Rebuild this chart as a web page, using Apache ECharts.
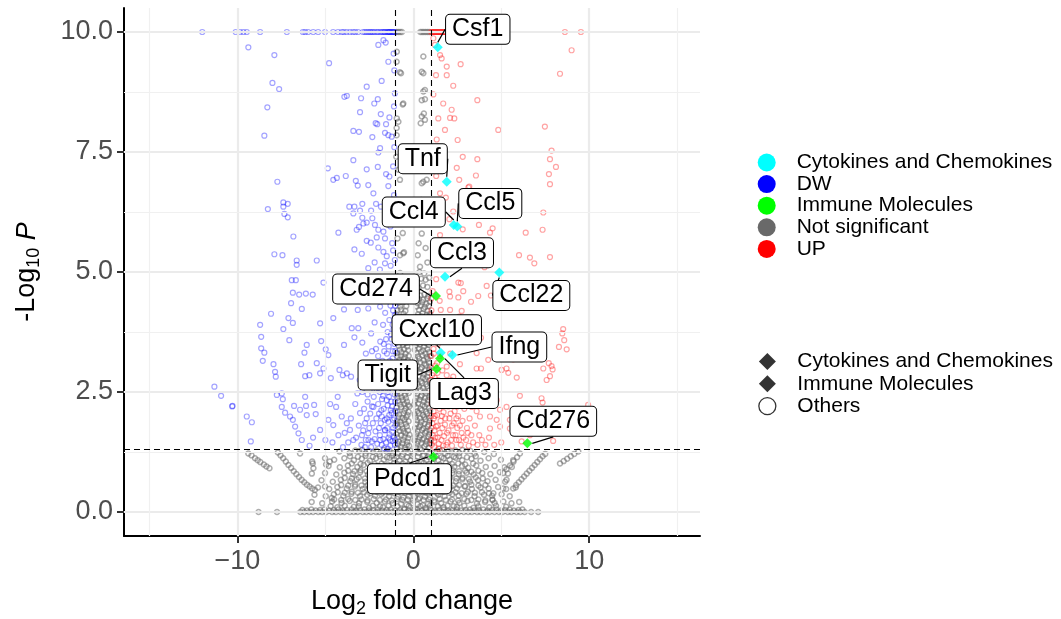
<!DOCTYPE html>
<html>
<head>
<meta charset="utf-8">
<script src="https://cdn.jsdelivr.net/npm/echarts@6/dist/echarts.min.js"></script>
<style>
  html, body { margin: 0; padding: 0; background: #fff; }
  #chart { width: 1061px; height: 619px; }
</style>
</head>
<body>
<div id="chart"></div>
<script>
// ---- data (log2 fold change, -log10 P) ----
const xTicks = [-10, 0, 10];
const yTicks = [0, 2.5, 5, 7.5, 10];
const xMinor = [-15, -5, 5, 15];
const yMinor = [1.25, 3.75, 6.25, 8.75];
const fcCutoff = 1;
const pCutoff = 1.301;

const cytoGenes = ['Csf1', 'Tnf', 'Ccl4', 'Ccl5', 'Ccl3', 'Ccl22', 'Cxcl10', 'Ifng'];
const cytoLFC = [1.39, 1.9, 2.3, 2.5, 1.8, 4.89, 1.56, 2.22];
const cytoLogP = [9.68, 6.88, 5.98, 5.95, 4.9, 4.99, 3.32, 3.27];

const immuneGenes = ['Cd274', 'Lag3', 'Tigit', 'Cd276', 'Pdcd1'];
const immuneLFC = [1.29, 1.52, 1.33, 6.48, 1.14];
const immuneLogP = [4.5, 3.2, 2.98, 1.43, 1.15];

// down-regulated (blue)
const dwPoints = [
  [-12.0,10],[-10.1,10],[-9.85,10],[-9.66,10],[-9.47,10],[-8.71,10],[-7.19,10],[-6.28,10],[-6.15,10],[-5.98,10],
  [-5.69,10],[-5.41,10],[-5.02,10],[-4.56,10],[-4.28,10],[-4.07,10],[-3.79,10],[-3.6,10],[-3.43,10],[-3.14,10],
  [-2.86,10],[-2.65,10],[-2.46,10],[-2.29,10],[-2.08,10],[-1.89,10],[-1.72,10],[-1.51,10],[-1.32,10],[-1.15,10],
  [-1.05,10],[-1.1,10],[-1.2,10],[-1.25,10],[-1.4,10],[-1.45,10],[-1.6,10],[-1.8,10],[-2.0,10],[-2.2,10],
  [-2.38,10],[-2.55,10],[-2.75,10],[-1.65,10],[-1.35,10],[-3.3,10],[-3.95,10],
  [-9.38,9.68],[-7.9,9.52],[-4.79,9.35],[-1.99,9.73],[-1.57,9.78],[-1.42,9.38],[-1.7,9.83],[-1.12,9.55],[-1.08,9.2],
  [-8.01,8.94],[-7.63,8.81],[-2.65,8.86],[-1.8,8.98],[-3.92,8.65],[-3.78,8.67],[-2.97,8.62],[-2.02,8.6],[-2.22,8.51],
  [-8.3,8.43],[-3.03,8.33],[-1.85,8.29],[-1.36,8.22],[-2.14,8.1],[-2.05,8.08],[-1.55,8.08],[-1.1,8.45],[-1.05,8.72],
  [-8.47,7.84],[-3.41,7.94],[-3.09,7.92],[-2.33,7.81],[-1.61,7.9],[-1.42,7.85],[-1.23,7.82],[-1.08,7.6],[-1.89,7.58],
  [-1.99,7.49],[-3.41,7.33],[-2.02,7.19],[-2.65,7.14],[-4.86,7.16],[-1.55,7.04],[-1.36,6.99],[-1.15,7.2],[-7.73,6.88],
  [-4.55,6.92],[-4.35,6.96],[-3.84,7.0],[-3.27,6.9],[-3.16,6.8],[-2.56,6.81],[-2.27,6.64],[-1.42,6.79],[-1.1,6.6],
  [-7.39,6.45],[-7.14,6.42],[-7.39,6.36],[-8.27,6.31],[-7.33,6.21],[-7.14,6.14],[-3.64,6.36],[-3.35,6.36],[-2.9,6.42],
  [-3.41,6.22],[-3.03,6.28],[-2.4,6.28],[-2.12,6.42],[-1.84,6.36],[-1.5,6.5],[-1.25,6.3],[-2.9,6.13],[-2.65,6.03],
  [-2.33,6.12],[-2.18,5.98],[-3.09,5.94],[-3.22,5.88],[-4.26,5.82],[-2.84,6.01],[-1.99,5.88],[-1.7,5.84],[-1.3,5.95],
  [-1.12,6.1],[-6.82,5.74],[-2.65,5.65],[-2.42,5.61],[-2.08,5.72],[-1.61,5.7],[-1.2,5.6],[-3.35,5.47],[-2.93,5.38],
  [-1.99,5.51],[-1.7,5.42],[-1.51,5.33],[-1.15,5.45],[-1.05,5.25],[-7.9,5.37],[-7.44,5.35],[-6.63,5.24],[-6.63,5.15],
  [-5.49,5.24],[-2.56,5.08],[-1.61,5.18],[-1.29,5.13],[-2.2,5.2],[-1.9,5.05],
  [-6.91,4.83],[-6.68,4.83],[-5.11,4.78],[-6.85,4.57],[-6.49,4.53],[-6.11,4.55],[-5.72,4.53],[-6.95,4.35],[-6.34,4.23],
  [-8.09,4.13],[-7.1,4.04],[-6.85,3.94],[-7.39,3.81],[-8.71,3.9],[-5.3,3.93],[-4.55,4.04],[-3.94,4.22],[-3.16,4.21],
  [-2.56,4.24],[-1.89,4.28],[-8.65,3.65],[-7.05,3.58],[-5.24,3.56],[-6.06,3.48],[-8.65,3.41],[-8.47,3.32],[-6.19,3.32],
  [-4.98,3.39],[-4.83,3.27],[-3.94,3.48],[-3.35,3.64],[-2.9,3.53],[-3.5,3.83],[-3.13,3.83],[-2.4,3.72],[-8.56,3.15],
  [-7.95,3.08],[-6.38,3.08],[-5.49,3.1],[-7.86,2.92],[-7.82,2.82],[-6.15,2.83],[-5.91,2.85],[-5.3,2.89],[-5.11,2.99],
  [-4.69,2.79],[-4.2,2.96],[-4.01,2.85],[-3.78,2.89],[-3.54,2.82],
  [-11.31,2.61],[-10.93,2.42],[-10.28,2.21],[-10.3,2.2],[-9.47,1.99],[-9.18,1.87],[-9.24,1.47],[-7.76,2.44],[-7.48,2.47],
  [-7.42,2.35],[-7.48,2.19],[-7.29,2.07],[-7.01,1.99],[-6.85,1.92],[-6.72,1.78],[-6.53,1.64],[-6.34,1.5],[-6.15,2.4],
  [-6.1,2.21],[-5.64,2.23],[-6.06,2.02],[-5.55,2.04],[-6.78,2.21],[-6.44,2.13],[-5.3,1.71],[-4.73,2.25],[-4.39,2.19],
  [-4.83,1.92],[-4.55,1.81],[-4.26,1.6],[-4.07,1.99],[-3.78,1.85],[-3.6,1.71],[-3.41,1.5],[-3.18,2.47],[-3.03,2.06],
  [-2.74,1.85],[-2.56,1.64],[-2.36,1.47],[-2.27,2.19],[-2.08,2.54],[-1.8,1.99],[-1.61,1.71],[-1.51,2.33],[-1.32,1.5],
  [-1.23,2.06],
  [-1.05,1.4],[-1.1,1.55],[-1.15,1.75],[-1.08,1.95],[-1.2,2.2],[-1.06,2.45],[-1.12,2.7],[-1.04,2.95],[-1.18,3.2],
  [-1.07,3.5],[-1.13,3.8],[-1.05,4.1],[-1.22,4.4],[-1.09,4.7],[-1.3,1.38],[-1.35,1.62],[-1.42,1.88],[-1.28,2.12],
  [-1.38,2.4],[-1.3,2.65],[-1.45,2.9],[-1.33,3.15],[-1.4,3.45],[-1.27,3.7],[-1.36,4.0],[-1.3,4.3],[-1.55,1.45],
  [-1.62,1.7],[-1.5,1.95],[-1.68,2.15],[-1.58,2.55],[-1.7,2.8],[-1.52,3.05],[-1.65,3.35],[-1.55,3.6],[-1.72,3.9],
  [-1.6,4.15],[-1.8,1.4],[-1.9,1.6],[-1.85,1.85],[-1.95,2.05],[-1.78,2.35],[-1.92,2.7],[-1.84,3.0],[-2.0,3.25],
  [-1.88,3.55],[-2.05,1.42],[-2.15,1.68],[-2.1,1.95],[-2.25,2.4],[-2.18,2.75],[-2.3,3.05],[-2.12,3.4],[-2.4,1.35],
  [-2.5,1.75],[-2.45,2.05],[-2.6,2.3],[-2.55,2.65],[-2.7,1.5],[-2.85,1.7],[-2.8,2.15],[-2.95,1.4],[-3.1,1.8],
  [-3.25,1.55],[-2.9,2.5],[-2.65,2.95],[-2.35,3.35],[-3.3,2.25],[-3.55,1.95],[-3.7,1.45],[-4.0,1.35],[-3.9,1.65],
  [-4.3,2.4],[-4.6,1.45],[-5.0,1.5],[-5.7,1.55],[-5.9,1.38],[-2.2,3.95],[-1.95,4.45],[-1.45,4.6],[-1.75,4.75],
  [-2.7,3.3],[-3.05,2.75],[-1.15,3.0],[-1.25,2.85],
  [-1.02,1.5],[-1.03,1.8],[-1.02,2.1],[-1.04,2.3],[-1.03,2.6],[-1.02,2.85],[-1.05,3.1],[-1.03,3.35],[-1.02,3.65],
  [-1.04,3.95],[-1.03,4.3],[-1.02,4.55],[-1.18,1.48],[-1.2,1.67],[-1.16,1.92],[-1.25,2.3],[-1.18,2.55],[-1.22,2.78],
  [-1.26,3.05],[-1.17,3.35],[-1.23,3.6],[-1.18,3.9],[-1.15,4.2],[-1.45,1.32],[-1.4,1.55],[-1.48,1.75],[-1.37,2.02],
  [-1.46,2.22],[-1.44,2.5],[-1.38,2.78],[-1.5,3.3],[-1.46,3.75],[-1.65,1.33],[-1.7,1.52],[-1.62,1.92],[-1.72,2.42],
  [-1.64,2.65],[-1.76,3.15],[-1.68,3.5],[-1.88,1.5],[-1.95,1.75],[-1.82,2.12],[-2.0,2.25],[-1.9,2.5],[-2.05,2.85],
  [-2.2,1.52],[-2.3,1.85],[-2.35,2.2],[-2.22,2.55],[-2.55,1.5],[-2.65,1.95],[-2.4,2.85],[-2.75,1.35],[-2.92,1.6],
  [-2.6,2.45]
];

// up-regulated (red)
const upPoints = [
  [1.0,10],[1.05,10],[1.1,10],[1.15,10],[1.2,10],[1.25,10],[1.3,10],[1.35,10],[1.4,10],[1.45,10],[1.5,10],
  [1.55,10],[1.6,10],[1.65,10],[1.7,10],[1.75,10],[1.8,10],[8.62,10],[9.53,10],
  [9.0,9.62],[8.34,9.13],[1.14,9.87],[1.23,9.73],[1.52,9.52],[1.61,9.45],[1.9,9.28],[2.69,9.33],[1.29,9.1],[1.9,9.1],
  [2.27,8.88],[1.14,8.7],[1.7,8.51],[3.64,8.58],[2.18,8.38],[1.42,8.2],[2.09,8.21],[2.33,8.2],[1.8,7.96],[4.83,7.96],
  [7.48,8.03],[1.33,7.76],[2.52,7.75],[7.86,7.53],[2.81,7.4],[3.64,7.35],[7.77,7.35],[8.11,7.19],[2.47,7.17],[7.71,7.04],
  [3.56,7.01],[2.61,6.92],[7.77,6.83],[3.13,6.76],[1.52,6.64],[1.23,6.5],[7.39,6.24],[2.27,6.26],[1.55,6.25],[2.81,5.89],
  [3.73,5.98],[4.51,5.91],[4.36,5.82],[1.52,5.77],[6.39,5.82],[7.35,5.88],[6.01,5.35],[6.63,5.3],[6.88,5.18],[7.77,5.31],
  [1.1,7.3],[1.3,7.0],[1.85,6.55],[2.05,6.1],[1.35,5.6],[2.9,5.55],[3.3,5.3],[2.35,5.4],[1.15,5.2],[1.7,5.15],[4.05,5.1],
  [3.18,6.78],
  [2.56,4.78],[2.7,4.77],[4.17,4.71],[3.69,4.5],[4.41,4.51],[2.09,4.49],[2.56,4.47],[3.28,4.38],[1.56,4.21],[2.09,4.21],
  [2.75,4.19],[8.52,3.81],[8.47,3.72],[8.58,3.58],[8.28,3.44],[8.72,3.39],[3.85,3.63],[2.65,3.08],[3.85,2.99],[5.3,2.99],
  [5.4,2.9],[5.88,2.8],[7.86,3.04],[7.92,2.97],[7.58,2.75],[7.77,2.83],[6.06,2.42],[7.29,2.37],[7.35,2.28],[9.94,2.23],
  [4.93,2.13],[4.36,1.99],[4.74,1.92],[7.01,1.88],[7.95,1.48],[6.63,1.6],[6.16,1.47],[5.49,1.74],
  [2.05,4.59],[1.5,4.4],[2.84,4.6],[2.61,4.07],[2.27,3.83],[2.84,3.62],[3.6,3.31],[4.26,3.17],[5.02,2.96],[5.88,3.51],
  [5.68,3.18],[3.6,2.99],[3.98,2.54],[4.74,2.33],[5.3,2.19],[5.97,1.99],[5.49,1.92],[4.93,1.78],[4.36,1.74],[3.79,1.99],
  [3.32,2.19],[2.94,2.4],[2.56,2.61],[2.27,2.82],[1.9,3.03],[1.52,3.25],[1.56,2.61],[7.39,2.99],[7.7,3.1],
  [1.05,1.4],[1.1,1.6],[1.08,1.85],[1.15,2.1],[1.05,2.35],[1.12,2.6],[1.07,2.85],[1.2,1.35],[1.25,1.55],[1.3,1.78],
  [1.22,2.0],[1.35,2.25],[1.28,2.5],[1.4,2.75],[1.45,1.42],[1.5,1.65],[1.55,1.9],[1.48,2.15],[1.6,2.4],[1.52,2.65],
  [1.7,1.38],[1.75,1.58],[1.8,1.82],[1.72,2.08],[1.85,2.3],[1.95,1.45],[2.0,1.7],[2.05,1.95],[1.98,2.2],[2.1,2.5],
  [2.2,1.38],[2.25,1.6],[2.3,1.85],[2.35,2.1],[2.45,1.5],[2.5,1.75],[2.55,2.0],[2.6,2.3],[2.7,1.4],[2.75,1.65],
  [2.8,1.9],[2.9,2.15],[3.0,1.5],[3.05,1.75],[3.15,1.38],[3.2,1.95],[3.3,1.6],[3.4,1.45],[3.5,1.8],[3.65,1.4],
  [3.75,1.6],[3.9,1.5],[4.1,1.4],[4.3,1.55],[4.6,1.4],[5.0,1.45],[2.15,2.75],[2.4,2.55],[1.65,2.95],[1.9,2.6],
  [1.35,3.1],[1.15,3.4],[1.25,3.75],[1.1,4.0],[1.4,3.5],[1.75,3.7],[1.1,4.6],[1.3,4.85],[2.95,2.7],[3.4,2.4],
  [3.6,2.1],[2.65,2.55],[2.1,3.3],[1.85,3.95],[2.35,4.0],
  [1.02,1.5],[1.03,1.75],[1.02,2.0],[1.04,2.25],[1.03,2.5],[1.02,2.75],[1.05,3.0],[1.03,3.25],[1.02,3.55],[1.04,3.85],
  [1.03,4.2],[1.02,4.45],[1.18,1.48],[1.2,1.7],[1.16,1.95],[1.25,2.35],[1.18,2.55],[1.22,2.8],[1.26,3.05],[1.17,3.3],
  [1.23,3.6],[1.18,3.9],[1.45,1.32],[1.4,1.55],[1.38,1.8],[1.36,2.02],[1.46,2.3],[1.44,2.5],[1.38,2.9],[1.6,1.5],
  [1.65,1.75],[1.62,2.0],[1.72,2.25],[1.64,2.6],[1.88,1.4],[1.92,1.65],[1.82,1.95],[2.0,2.35],[1.9,2.85],[2.15,1.5],
  [2.2,1.8],[2.12,2.05],[2.3,2.3],[2.4,1.6],[2.45,1.95],[2.6,1.5],[2.65,1.8],[2.85,1.55],[3.1,1.65],[2.5,2.2]
];

// not significant (grey)
const nsPoints = [
  [-0.95,10],[-0.85,10],[-0.75,10],[-0.65,10],[0.4,10],[0.5,10],[0.6,10],[0.7,10],[0.8,10],[0.9,10],
  [-0.94,9.59],[-0.95,9.38],[-0.7,9.14],[-0.6,8.49],[-0.95,8.0],[-0.95,7.85],[-0.97,7.4],[-0.76,6.92],[-0.6,5.81],
  [-0.53,5.41],[-0.76,5.35],[-0.76,9.16],[0.48,9.17],[0.57,8.76],[0.48,8.58],[0.66,8.6],[-0.57,8.51],[-0.94,8.2],
  [-0.85,8.13],[0.48,8.24],[0.66,8.17],[0.42,8.1],[-0.85,7.13],[0.48,6.85],[0.76,6.92],[0.57,9.49],[0.57,9.14],
  [0.66,8.79],[0.6,8.3],[0.57,6.88],[0.38,6.01],[0.48,5.8],[-0.57,5.39],[0.38,5.11],[0.55,7.3],[0.7,7.6],[-0.9,6.5],
  [0.45,6.5],[0.62,6.2],[-0.8,6.1],[0.3,5.6],[0.7,5.5],[-0.9,5.7],[0.8,5.2],[0.25,5.35],
  [-0.93,1.33],[-0.71,1.36],[-0.47,1.34],[-0.24,1.38],[0.14,1.35],[0.39,1.32],[0.63,1.37],[0.88,1.34],
  [-0.82,1.47],[-0.58,1.5],[-0.34,1.46],[0.07,1.49],[0.27,1.47],[0.52,1.51],[0.76,1.48],[0.96,1.5],
  [-0.95,1.62],[-0.69,1.6],[-0.44,1.64],[-0.22,1.61],[0.18,1.63],[0.42,1.6],[0.67,1.65],[0.9,1.62],
  [-0.86,1.76],[-0.61,1.74],[-0.37,1.78],[0.1,1.75],[0.33,1.77],[0.58,1.74],[0.81,1.78],
  [-0.92,1.9],[-0.74,1.88],[-0.5,1.92],[-0.27,1.89],[0.2,1.91],[0.46,1.88],[0.7,1.93],[0.93,1.9],
  [-0.8,2.03],[-0.56,2.05],[-0.33,2.02],[0.08,2.04],[0.31,2.06],[0.55,2.02],[0.79,2.05],
  [-0.96,2.17],[-0.68,2.19],[-0.43,2.16],[-0.23,2.2],[0.16,2.18],[0.41,2.15],[0.65,2.2],[0.89,2.17],
  [-0.84,2.31],[-0.6,2.33],[-0.36,2.3],[0.11,2.32],[0.35,2.34],[0.6,2.3],[0.84,2.33],
  [-0.93,2.45],[-0.72,2.47],[-0.48,2.44],[-0.26,2.48],[0.21,2.46],[0.47,2.43],[0.71,2.48],[0.95,2.45],
  [-0.81,2.6],[-0.57,2.58],[-0.32,2.62],[0.09,2.59],[0.32,2.61],[0.56,2.58],[0.8,2.62],
  [-0.95,2.74],[-0.66,2.76],[-0.42,2.73],[-0.24,2.77],[0.17,2.75],[0.43,2.72],[0.68,2.77],[0.91,2.74],
  [-0.85,2.88],[-0.61,2.9],[-0.38,2.87],[0.12,2.89],[0.36,2.91],[0.61,2.87],[0.85,2.9],
  [-0.91,3.03],[-0.7,3.05],[-0.46,3.02],[-0.25,3.06],[0.22,3.04],[0.48,3.01],[0.73,3.06],[0.94,3.03],
  [-0.79,3.17],[-0.55,3.19],[-0.31,3.16],[0.1,3.18],[0.34,3.2],[0.58,3.16],[0.82,3.19],
  [-0.94,3.31],[-0.67,3.33],[-0.44,3.3],[0.19,3.32],[0.44,3.34],[0.69,3.3],[0.9,3.33],
  [-0.83,3.46],[-0.59,3.48],[-0.35,3.45],[0.13,3.47],[0.37,3.49],[0.62,3.45],[0.86,3.48],
  [-0.92,3.6],[-0.71,3.62],[-0.48,3.59],[-0.27,3.63],[0.24,3.61],[0.5,3.58],[0.75,3.63],[0.95,3.6],
  [-0.8,3.75],[-0.56,3.77],[-0.33,3.74],[0.15,3.76],[0.39,3.78],[0.64,3.74],[0.87,3.77],
  [-0.95,3.9],[-0.65,3.92],[-0.4,3.89],[0.28,3.91],[0.53,3.88],[0.78,3.93],[0.93,3.9],
  [-0.86,4.05],[-0.6,4.07],[-0.3,4.04],[0.2,4.06],[0.45,4.08],[0.7,4.04],[0.88,4.07],
  [-0.91,4.2],[-0.7,4.22],[-0.45,4.19],[0.33,4.21],[0.58,4.23],[0.82,4.19],
  [-0.82,4.36],[-0.55,4.38],[0.25,4.35],[0.5,4.37],[0.74,4.34],[0.94,4.38],
  [-0.94,4.52],[-0.66,4.5],[-0.38,4.54],[0.4,4.51],[0.63,4.53],[0.85,4.5],
  [-0.8,4.68],[-0.5,4.7],[0.3,4.67],[0.55,4.72],[0.8,4.69],
  [-0.92,4.85],[-0.62,4.83],[0.45,4.86],[0.7,4.84],[0.9,4.88],
  [-0.75,4.98],[0.35,5.0],[0.62,4.97],
  [-0.88,1.41],[-0.63,1.43],[-0.36,1.4],[0.2,1.42],[0.46,1.44],[0.72,1.41],[0.93,1.43],
  [-0.9,1.55],[-0.5,1.56],[-0.29,1.54],[0.12,1.57],[0.35,1.55],[0.6,1.53],[0.86,1.56],
  [-0.77,1.69],[-0.55,1.68],[-0.3,1.7],[0.24,1.69],[0.5,1.71],[0.74,1.68],[0.94,1.7],
  [-0.94,1.83],[-0.68,1.82],[-0.43,1.84],[0.16,1.83],[0.4,1.81],[0.64,1.84],[0.87,1.82],
  [-0.85,1.97],[-0.62,1.96],[-0.4,1.98],[0.13,1.97],[0.38,1.95],[0.62,1.98],[0.9,1.96],
  [-0.9,2.1],[-0.5,2.11],[-0.27,2.09],[0.22,2.1],[0.48,2.12],[0.72,2.09],[0.95,2.11],
  [-0.74,2.24],[-0.52,2.25],[-0.3,2.23],[0.05,2.24],[0.28,2.26],[0.53,2.23],[0.78,2.25],
  [-0.9,2.38],[-0.66,2.39],[-0.42,2.37],[0.17,2.38],[0.42,2.4],[0.67,2.37],[0.9,2.39],
  [-0.86,2.52],[-0.6,2.53],[-0.38,2.51],[0.15,2.52],[0.4,2.54],[0.65,2.51],[0.9,2.53],
  [-0.9,2.67],[-0.7,2.68],[-0.46,2.66],[-0.26,2.68],[0.24,2.67],[0.5,2.69],[0.74,2.66],[0.96,2.68],
  [-0.8,2.81],[-0.54,2.82],[-0.3,2.8],[0.06,2.81],[0.3,2.83],[0.55,2.8],[0.79,2.82],
  [-0.91,2.96],[-0.66,2.97],[-0.42,2.95],[0.18,2.96],[0.42,2.98],[0.67,2.95],[0.9,2.97],
  [-0.85,3.1],[-0.6,3.11],[-0.36,3.09],[0.16,3.1],[0.4,3.12],[0.64,3.09],[0.88,3.11],
  [-0.9,3.24],[-0.7,3.25],[-0.48,3.23],[-0.26,3.25],[0.26,3.24],[0.52,3.26],[0.76,3.23],[0.96,3.25],
  [-0.77,3.38],[-0.52,3.39],[-0.3,3.37],[0.08,3.38],[0.31,3.4],[0.56,3.37],[0.8,3.39],
  [-0.95,3.53],[-0.65,3.54],[-0.42,3.52],[0.2,3.53],[0.44,3.55],[0.69,3.52],[0.92,3.54],
  [-0.86,3.67],[-0.6,3.68],[-0.36,3.66],[0.11,3.67],[0.34,3.69],[0.58,3.66],[0.82,3.68],
  [-0.9,3.82],[-0.7,3.83],[-0.46,3.81],[0.22,3.82],[0.46,3.84],[0.71,3.81],[0.95,3.83],
  [-0.78,3.97],[-0.5,3.98],[0.14,3.97],[0.38,3.99],[0.62,3.96],[0.85,3.98],
  [-0.95,4.12],[-0.56,4.13],[0.27,4.12],[0.52,4.14],[0.76,4.11],[0.95,4.13],
  [-0.74,4.28],[-0.4,4.29],[0.18,4.28],[0.42,4.3],[0.66,4.27],[0.88,4.29],
  [-0.88,4.43],[0.32,4.44],[0.56,4.42],[0.8,4.45],
  [-0.9,1.22],[-0.6,1.2],[-0.3,1.24],[0.0,1.21],[0.3,1.23],[0.6,1.19],[0.9,1.22],
  [-0.78,1.07],[-0.45,1.05],[-0.15,1.08],[0.15,1.06],[0.45,1.04],[0.75,1.08],
  [-0.92,0.92],[-0.6,0.9],[-0.3,0.93],[0.02,0.91],[0.3,0.89],[0.62,0.92],[0.93,0.9],
  [-0.76,0.77],[-0.44,0.75],[-0.12,0.78],[0.18,0.76],[0.47,0.74],[0.78,0.77],
  [-0.9,0.62],[-0.58,0.6],[-0.28,0.63],[0.05,0.61],[0.33,0.59],[0.63,0.62],[0.92,0.6],
  [-0.74,0.47],[-0.42,0.45],[-0.1,0.48],[0.2,0.46],[0.5,0.44],[0.8,0.47],
  [-0.88,0.32],[-0.56,0.3],[-0.25,0.33],[0.08,0.31],[0.36,0.29],[0.66,0.32],[0.95,0.3],
  [-0.7,0.17],[-0.38,0.15],[-0.05,0.18],[0.24,0.16],[0.54,0.14],[0.84,0.17],
  [-0.5,0.07],[0.1,0.06],[0.7,0.08],
  [-4.2,1.26],[-3.62,1.23],[-3.08,1.27],[-2.71,1.22],[-2.28,1.25],[-1.93,1.21],[-1.52,1.26],[-1.18,1.23],
  [1.22,1.24],[1.53,1.27],[1.81,1.22],[2.18,1.26],[2.62,1.23],[3.02,1.27],[3.48,1.22],[4.03,1.25],[4.58,1.21],
  [-4.5,1.09],[-3.92,1.12],[-3.38,1.08],[-2.93,1.11],[-2.47,1.07],[-2.12,1.12],[-1.68,1.09],[-1.36,1.13],[-1.08,1.1],
  [1.16,1.11],[1.42,1.08],[1.73,1.12],[2.07,1.09],[2.41,1.13],[2.78,1.08],[3.31,1.11],[3.82,1.07],[4.28,1.12],[4.98,1.09],
  [-4.82,0.96],[-4.18,0.93],[-3.72,0.97],[-3.18,0.94],[-2.82,0.98],[-2.38,0.93],[-2.02,0.96],[-1.62,0.94],[-1.24,0.97],
  [1.28,0.95],[1.67,0.93],[2.02,0.97],[2.33,0.94],[2.77,0.96],[3.12,0.92],[3.58,0.97],[4.12,0.94],[4.62,0.96],[5.18,0.93],
  [-5.02,0.81],[-4.38,0.78],[-3.92,0.82],[-3.43,0.79],[-3.02,0.83],[-2.58,0.78],[-2.22,0.81],[-1.78,0.79],[-1.42,0.82],
  [-1.1,0.78],[1.12,0.8],[1.47,0.83],[1.83,0.78],[2.22,0.81],[2.58,0.79],[3.03,0.82],[3.43,0.78],[3.92,0.81],[4.38,0.79],
  [4.92,0.83],[5.38,0.8],
  [-5.22,0.66],[-4.58,0.63],[-4.12,0.67],[-3.58,0.64],[-3.22,0.68],[-2.73,0.63],[-2.37,0.66],[-1.93,0.64],[-1.57,0.67],
  [-1.22,0.63],[1.18,0.66],[1.62,0.63],[1.98,0.67],[2.42,0.64],[2.78,0.68],[3.22,0.63],[3.68,0.66],[4.22,0.64],[4.68,0.67],
  [5.22,0.63],
  [-5.42,0.51],[-4.78,0.48],[-4.32,0.52],[-3.78,0.49],[-3.32,0.53],[-2.88,0.48],[-2.52,0.51],[-2.08,0.49],[-1.72,0.52],
  [-1.28,0.48],[1.32,0.51],[1.68,0.48],[2.12,0.52],[2.48,0.49],[2.92,0.53],[3.33,0.48],[3.82,0.51],[4.28,0.49],[4.82,0.52],
  [5.28,0.48],[5.82,0.51],
  [-5.62,0.36],[-4.98,0.33],[-4.52,0.37],[-3.98,0.34],[-3.52,0.38],[-3.03,0.33],[-2.62,0.36],[-2.18,0.34],[-1.82,0.37],
  [-1.38,0.33],[1.42,0.36],[1.78,0.33],[2.22,0.37],[2.58,0.34],[3.02,0.38],[3.48,0.33],[4.02,0.36],[4.48,0.34],[5.02,0.37],
  [5.48,0.33],
  [-5.78,0.21],[-5.18,0.18],[-4.62,0.22],[-4.08,0.19],[-3.62,0.23],[-3.08,0.18],[-2.62,0.21],[-2.08,0.19],[-1.62,0.22],
  [-1.18,0.18],[1.22,0.21],[1.58,0.18],[2.12,0.22],[2.62,0.19],[3.08,0.23],[3.62,0.18],[4.08,0.21],[4.62,0.19],[5.12,0.22],
  [5.58,0.18],[6.02,0.21],
  [-4.32,0.1],[-3.38,0.11],[-2.52,0.09],[-1.72,0.1],[1.72,0.1],[2.48,0.11],[3.42,0.09],[4.32,0.1],[5.28,0.11],
  [-3.3,1.28],[-2.9,1.29],[-2.5,1.27],[-2.1,1.28],[-1.7,1.29],[-1.35,1.27],[-0.75,1.28],[-0.45,1.29],[-0.15,1.27],
  [0.15,1.28],[0.45,1.29],[0.75,1.27],[1.35,1.28],[1.65,1.29],[2.0,1.27],[2.4,1.28],[2.8,1.29],[3.25,1.27],
  [-3.6,1.16],[-3.15,1.15],[-2.72,1.17],[-2.3,1.15],[-1.9,1.16],[-1.5,1.14],[-1.2,1.17],[-0.95,1.15],[-0.65,1.16],
  [-0.35,1.14],[-0.05,1.16],[0.25,1.15],[0.55,1.17],[0.85,1.15],[1.3,1.16],[1.6,1.14],[1.95,1.17],[2.3,1.15],[2.6,1.16],
  [3.05,1.14],[3.55,1.16],
  [-3.5,1.01],[-3.0,1.0],[-2.6,1.02],[-2.2,1.0],[-1.8,1.01],[-1.45,0.99],[-1.1,1.02],[-0.9,1.0],[-0.6,1.01],[-0.3,0.99],
  [0.0,1.01],[0.3,1.0],[0.6,1.02],[0.9,1.0],[1.1,1.01],[1.5,0.99],[1.85,1.02],[2.2,1.0],[2.55,1.01],[2.95,0.99],[3.4,1.01],
  [-3.7,0.86],[-3.35,0.85],[-3.0,0.87],[-2.65,0.85],[-2.3,0.86],[-1.95,0.84],[-1.6,0.87],[-1.28,0.85],[-0.95,0.86],
  [-0.65,0.84],[-0.35,0.87],[-0.05,0.85],[0.25,0.86],[0.55,0.84],[0.85,0.87],[1.2,0.85],[1.55,0.86],[1.9,0.84],
  [2.25,0.87],[2.6,0.85],[2.95,0.86],[3.3,0.84],[3.7,0.86],
  [-3.9,0.71],[-3.5,0.7],[-3.1,0.72],[-2.75,0.7],[-2.4,0.71],[-2.05,0.69],[-1.72,0.72],[-1.38,0.7],[-1.05,0.71],
  [-0.75,0.69],[-0.45,0.72],[-0.15,0.7],[0.15,0.71],[0.45,0.69],[0.75,0.72],[1.05,0.7],[1.4,0.71],[1.75,0.69],
  [2.1,0.72],[2.45,0.7],[2.8,0.71],[3.15,0.69],[3.55,0.72],[3.95,0.7],
  [-4.1,0.56],[-3.7,0.55],[-3.3,0.57],[-2.95,0.55],[-2.6,0.56],[-2.25,0.54],[-1.9,0.57],[-1.55,0.55],[-1.2,0.56],
  [-0.9,0.54],[-0.6,0.57],[-0.3,0.55],[0.0,0.56],[0.3,0.54],[0.6,0.57],[0.9,0.55],[1.2,0.56],[1.55,0.54],[1.9,0.57],
  [2.25,0.55],[2.6,0.56],[2.95,0.54],[3.3,0.57],[3.7,0.55],[4.1,0.56],
  [-4.3,0.41],[-3.9,0.4],[-3.5,0.42],[-3.15,0.4],[-2.8,0.41],[-2.45,0.39],[-2.1,0.42],[-1.75,0.4],[-1.4,0.41],
  [-1.08,0.39],[-0.78,0.42],[-0.48,0.4],[-0.18,0.41],[0.12,0.39],[0.42,0.42],[0.72,0.4],[1.02,0.41],[1.35,0.39],
  [1.7,0.42],[2.05,0.4],[2.4,0.41],[2.75,0.39],[3.1,0.42],[3.5,0.4],[3.9,0.41],[4.3,0.39],
  [-4.5,0.26],[-4.1,0.25],[-3.7,0.27],[-3.3,0.25],[-2.95,0.26],[-2.6,0.24],[-2.25,0.27],[-1.9,0.25],[-1.55,0.26],
  [-1.22,0.24],[-0.92,0.27],[-0.62,0.25],[-0.32,0.26],[-0.02,0.24],[0.28,0.27],[0.58,0.25],[0.88,0.26],[1.18,0.24],
  [1.5,0.27],[1.85,0.25],[2.2,0.26],[2.55,0.24],[2.9,0.27],[3.3,0.25],[3.7,0.26],[4.1,0.24],[4.5,0.26],
  [-4.7,0.12],[-3.9,0.13],[-3.1,0.12],[-2.3,0.13],[-1.9,0.12],[-1.4,0.13],[-0.9,0.12],[-0.25,0.13],[0.4,0.12],
  [0.95,0.13],[1.4,0.12],[1.95,0.13],[2.3,0.12],[2.9,0.13],[3.7,0.12],[4.7,0.13],
  [-8.8,0],[-7.75,0],[-6.42,0],[-6.2,0],[-5.93,0],[-5.7,0],[-5.41,0],[-5.18,0],[-4.95,0],[-4.62,0],[-4.4,0],[-4.13,0],
  [-3.92,0],[-3.61,0],[-3.38,0],[-3.17,0],[-2.88,0],[-2.67,0],[-2.41,0],[-2.12,0],[-1.93,0],[-1.62,0],[-1.41,0],
  [-1.18,0],[-0.87,0],[-0.66,0],[-0.38,0],[-0.17,0],[0.12,0],[0.33,0],[0.62,0],[0.84,0],[1.13,0],[1.32,0],[1.61,0],
  [1.87,0],[2.08,0],[2.37,0],[2.58,0],[2.87,0],[3.12,0],[3.33,0],[3.62,0],[3.83,0],[4.12,0],[4.33,0],[4.61,0],[4.87,0],
  [5.08,0],[5.37,0],[5.58,0],[5.87,0],[6.08,0],[6.33,0],[6.7,0],[7.1,0],
  [-6.3,0.04],[-6.05,0.03],[-5.8,0.05],[-5.55,0.03],[-5.3,0.04],[-5.05,0.05],[-4.78,0.03],[-4.52,0.04],[-4.26,0.05],
  [-4.02,0.03],[-3.77,0.04],[-3.5,0.05],[-3.27,0.03],[-3.02,0.04],[-2.78,0.05],[-2.53,0.03],[-2.27,0.04],[-2.02,0.05],
  [-1.77,0.03],[-1.52,0.04],[-1.28,0.05],[-1.03,0.03],[-0.77,0.04],[-0.52,0.05],[-0.27,0.03],[0.0,0.04],[0.22,0.05],
  [0.48,0.03],[0.73,0.04],[0.98,0.05],[1.22,0.03],[1.47,0.04],[1.73,0.05],[1.98,0.03],[2.22,0.04],[2.47,0.05],
  [2.72,0.03],[2.98,0.04],[3.22,0.05],[3.48,0.03],[3.72,0.04],[3.98,0.05],[4.22,0.03],[4.48,0.04],[4.73,0.05],
  [4.98,0.03],[5.22,0.04],[5.48,0.05],[5.72,0.03],[5.98,0.04],[6.2,0.05],
  [-9.38,1.22],[-9.2,1.18],[-9.0,1.12],[-8.85,1.08],[-8.7,1.04],[-8.5,0.99],[-8.35,0.95],[-8.18,0.91],
  [-7.7,1.24],[-7.55,1.18],[-7.4,1.12],[-7.25,1.05],[-7.1,0.98],[-6.95,0.92],[-6.8,0.85],[-6.65,0.79],[-6.5,0.73],
  [-6.35,0.67],[-6.2,0.62],[-6.05,0.57],[-5.9,0.53],[-5.75,0.49],[-5.6,0.46],
  [-5.72,1.01],[-5.68,0.91],[-5.77,0.8],[-5.75,1.05],[-6.44,1.22],[-5.02,1.12],[-4.96,0.99],[-4.64,0.29],[-4.75,1.05],
  [-5.02,0.53],
  [5.11,0.81],[5.3,0.89],[5.5,0.97],[5.7,1.05],[5.9,1.14],[6.06,1.22],
  [5.68,0.49],[5.85,0.56],[6.0,0.62],[6.15,0.68],[6.3,0.74],[6.45,0.8],[6.6,0.86],[6.75,0.92],[6.9,0.98],[7.05,1.04],
  [7.2,1.1],[7.35,1.16],[7.5,1.21],
  [8.34,1.01],[8.55,1.06],[8.75,1.11],[8.95,1.16],[9.15,1.21],[9.38,1.26],
  [5.68,1.08],[5.6,0.94],[5.3,0.67],[5.11,0.49],[4.55,0.39],[4.5,0.25]
];

// label box offsets (pixels from the point to the box centre)
const labelOffsets = {
  Csf1: [40, -18], Tnf: [-24, -23], Ccl4: [-40, -13], Ccl5: [33, -23], Ccl3: [17, -24],
  Ccl22: [32, 23], Cxcl10: [-4, -23], Ifng: [67, -8], Cd274: [-60, -7], Lag3: [24, 35],
  Tigit: [-49, 6], Cd276: [26, -22], Pdcd1: [-24, 22]
};

const FONT = 'Liberation Sans';

const cytoData = cytoGenes.map((g, i) => ({ name: g, value: [cytoLFC[i], cytoLogP[i]] }));
const immuneData = immuneGenes.map((g, i) => ({ name: g, value: [immuneLFC[i], immuneLogP[i]] }));

const geneLabel = {
  show: true,
  position: 'inside',
  formatter: '{b}',
  fontFamily: FONT,
  fontSize: 25,
  color: '#000',
  opacity: 1,
  backgroundColor: '#ffffff',
  borderColor: '#000',
  borderWidth: 1,
  borderRadius: 4,
  padding: [2, 6]
};
const geneLayout = function (params) {
  const o = labelOffsets[params.text] || [0, 0];
  return { dx: o[0], dy: o[1] };
};

const gridLines = []
  .concat(xTicks.map(v => ({ xAxis: v, lineStyle: { color: '#ebebeb', width: 2.2, type: 'solid' } })))
  .concat(yTicks.map(v => ({ yAxis: v, lineStyle: { color: '#ebebeb', width: 2.2, type: 'solid' } })))
  .concat(xMinor.map(v => ({ xAxis: v, lineStyle: { color: '#f0f0f0', width: 1.2, type: 'solid' } })))
  .concat(yMinor.map(v => ({ yAxis: v, lineStyle: { color: '#f0f0f0', width: 1.2, type: 'solid' } })));

const legendText = { fontFamily: FONT, fontSize: 21, color: '#000', padding: [0, 0, 0, 16] };

const chart = echarts.init(document.getElementById('chart'));

chart.setOption({
  animation: false,
  backgroundColor: '#fff',
  grid: { left: 124, right: 361, top: 8, bottom: 83, outerBoundsMode: 'none' },
  xAxis: {
    type: 'value',
    min: -16.45,
    max: 16.3,
    axisLine: { show: true, onZero: false, lineStyle: { color: '#000', width: 2 } },
    axisTick: { show: true, customValues: xTicks, length: 7, lineStyle: { color: '#333', width: 2 } },
    axisLabel: {
      customValues: xTicks,
      formatter: v => (v < 0 ? '\u2212' + Math.abs(v) : String(v)),
      fontFamily: FONT, fontSize: 27, color: '#4d4d4d', margin: 12
    },
    splitLine: { show: false },
    name: '{a|Log}{s|2}{a| fold change}',
    nameLocation: 'middle',
    nameGap: 50,
    nameTextStyle: {
      rich: {
        a: { fontFamily: FONT, fontSize: 27, color: '#000', lineHeight: 32 },
        s: { fontFamily: FONT, fontSize: 18, color: '#000', lineHeight: 18, verticalAlign: 'bottom' }
      }
    }
  },
  yAxis: {
    type: 'value',
    min: -0.5,
    max: 10.5,
    axisLine: { show: true, onZero: false, lineStyle: { color: '#000', width: 2 } },
    axisTick: { show: true, customValues: yTicks, length: 7, lineStyle: { color: '#333', width: 2 } },
    axisLabel: {
      customValues: yTicks,
      formatter: v => v.toFixed(1),
      fontFamily: FONT, fontSize: 27, color: '#4d4d4d', margin: 11
    },
    splitLine: { show: false },
    name: '{a|-Log}{s|10}{a| }{i|P}',
    nameLocation: 'middle',
    nameRotate: 90,
    nameGap: 81,
    nameTextStyle: {
      rich: {
        a: { fontFamily: FONT, fontSize: 27, color: '#000', lineHeight: 32 },
        s: { fontFamily: FONT, fontSize: 18, color: '#000', lineHeight: 18, verticalAlign: 'bottom' },
        i: { fontFamily: FONT, fontSize: 27, color: '#000', lineHeight: 32, fontStyle: 'italic' }
      }
    }
  },
  legend: [
    {
      orient: 'vertical',
      left: 752.7,
      top: 147,
      itemWidth: 18,
      itemHeight: 18,
      itemGap: 0.6,
      selectedMode: false,
      textStyle: legendText,
      data: [
        { name: 'Cytokines and Chemokines', icon: 'circle', itemStyle: { color: '#00ffff', borderWidth: 0, opacity: 1 } },
        { name: 'DW', icon: 'circle', itemStyle: { color: '#0000ff', borderWidth: 0, opacity: 1 } },
        { name: 'Immune Molecules', icon: 'circle', itemStyle: { color: '#00ff00', borderWidth: 0, opacity: 1 } },
        { name: 'Not significant', icon: 'circle', itemStyle: { color: '#696969', borderWidth: 0, opacity: 1 } },
        { name: 'UP', icon: 'circle', itemStyle: { color: '#ff0000', borderWidth: 0, opacity: 1 } }
      ]
    },
    {
      orient: 'vertical',
      left: 753.2,
      top: 346,
      itemWidth: 17,
      itemHeight: 17,
      itemGap: 1.3,
      selectedMode: false,
      textStyle: { fontFamily: FONT, fontSize: 21, color: '#000', padding: [0, 0, 0, 16.5] },
      data: [
        { name: 'Cytokines and Chemokines ', icon: 'diamond', itemStyle: { color: '#000', borderWidth: 0 } },
        { name: 'Immune Molecules ', icon: 'diamond', itemStyle: { color: '#000', borderWidth: 0 } },
        { name: 'Others', icon: 'circle', itemStyle: { color: '#fff', borderColor: '#000', borderWidth: 1.3 } }
      ]
    }
  ],
  series: [
    {
      type: 'line', data: [], z: 0, silent: true,
      markLine: { silent: true, symbol: 'none', label: { show: false }, data: gridLines }
    },
    {
      name: 'Not significant', type: 'scatter', data: nsPoints, symbol: 'circle', symbolSize: 5, z: 2, silent: true,
      itemStyle: { color: 'rgba(0,0,0,0)', borderColor: 'rgba(105,105,105,0.68)', borderWidth: 1.5 }
    },
    {
      name: 'DW', type: 'scatter', data: dwPoints, symbol: 'circle', symbolSize: 5, z: 2, silent: true,
      itemStyle: { color: 'rgba(0,0,0,0)', borderColor: 'rgba(0,0,255,0.45)', borderWidth: 1.2 }
    },
    {
      name: 'UP', type: 'scatter', data: upPoints, symbol: 'circle', symbolSize: 5, z: 2, silent: true,
      itemStyle: { color: 'rgba(0,0,0,0)', borderColor: 'rgba(255,0,0,0.45)', borderWidth: 1.2 }
    },
    {
      type: 'line', data: [], z: 3, silent: true,
      markLine: {
        silent: true, symbol: 'none', label: { show: false },
        lineStyle: { color: '#000', width: 1.1, type: [6, 4] },
        data: [{ xAxis: -fcCutoff }, { xAxis: fcCutoff }, { yAxis: pCutoff }]
      }
    },
    {
      name: 'Cytokines and Chemokines', type: 'scatter', data: cytoData, symbol: 'diamond', symbolSize: 10, z: 5,
      itemStyle: { color: '#00ffff' },
      label: geneLabel,
      labelLine: { show: true, lineStyle: { color: '#000', width: 1.2 } },
      labelLayout: geneLayout
    },
    {
      name: 'Immune Molecules', type: 'scatter', data: immuneData, symbol: 'diamond', symbolSize: 10, z: 5,
      itemStyle: { color: '#00ff00' },
      label: geneLabel,
      labelLine: { show: true, lineStyle: { color: '#000', width: 1.2 } },
      labelLayout: geneLayout
    },
    { name: 'Cytokines and Chemokines ', type: 'scatter', data: [] },
    { name: 'Immune Molecules ', type: 'scatter', data: [] },
    { name: 'Others', type: 'scatter', data: [] }
  ]
});
</script>
</body>
</html>
